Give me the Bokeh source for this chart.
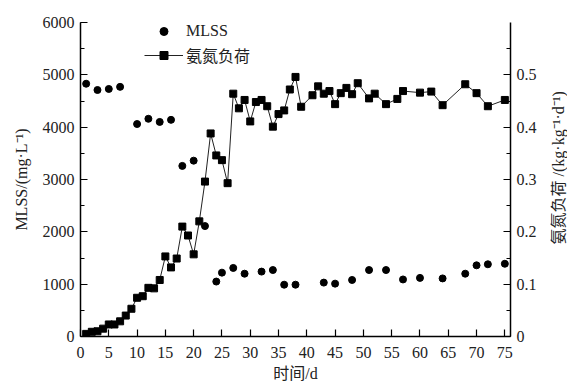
import math
from bokeh.plotting import figure
from bokeh.layouts import row
from bokeh.models import (LinearAxis, Range1d, FixedTicker, SingleIntervalTicker,
                          Legend, LegendItem)
from bokeh.core.properties import value
from bokeh.embed import file_html
from bokeh.resources import INLINE

# ---- data ----
mlss_days = [1, 3, 5, 7, 10, 12, 14, 16, 18, 20, 22, 24, 25, 27, 29, 32, 34, 36, 38,
             43, 45, 48, 51, 54, 57, 60, 64, 68, 70, 72, 75]
mlss_vals = [4830, 4710, 4730, 4770, 4060, 4160, 4100, 4140, 3260, 3360, 2110,
             1050, 1220, 1310, 1200, 1240, 1270, 990, 990,
             1030, 1010, 1080, 1270, 1270, 1090, 1120, 1110, 1200, 1360, 1380, 1390]

load_days = [1, 2, 3, 4, 5, 6, 7, 8, 9, 10, 11, 12, 13, 14, 15, 16, 17, 18, 19, 20,
             21, 22, 23, 24, 25, 26, 27, 28, 29, 30, 31, 32, 33, 34, 35, 36, 37, 38, 39,
             41, 42, 43, 44, 45, 46, 47, 48, 49, 51, 52, 54, 56, 57, 60, 62, 64, 68, 70, 72, 75]
load_vals = [0.005, 0.009, 0.010, 0.015, 0.023, 0.023, 0.029, 0.040, 0.053, 0.074,
             0.077, 0.093, 0.092, 0.108, 0.153, 0.132, 0.149, 0.210, 0.193, 0.157,
             0.220, 0.296, 0.388, 0.346, 0.337, 0.293, 0.464, 0.436, 0.452, 0.411,
             0.448, 0.452, 0.440, 0.401, 0.425, 0.432, 0.472, 0.496, 0.439,
             0.461, 0.478, 0.464, 0.469, 0.444, 0.465, 0.475, 0.463, 0.484,
             0.455, 0.464, 0.444, 0.454, 0.469, 0.466, 0.468, 0.442, 0.482, 0.465, 0.440, 0.452]

x_ticks = [0, 5, 10, 15, 20, 25, 30, 35, 40, 45, 50, 55, 60, 65, 70, 75]
x_title = "时间/d"
left_title = "MLSS/(mg·L⁻¹)"
right_title = "氨氮负荷 /(kg·kg⁻¹·d⁻¹)"

SERIF = "Liberation Serif, Noto Sans CJK SC"
CJK = "Noto Sans CJK SC"

p = figure(width=550, height=387, output_backend="svg", toolbar_location=None,
           x_range=Range1d(0, 76), y_range=Range1d(0, 6000),
           min_border_left=80, min_border_right=40, min_border_top=22, min_border_bottom=51)
p.extra_y_ranges = {"load": Range1d(0, 0.6)}
p.outline_line_color = None
p.xgrid.visible = False
p.ygrid.visible = False
p.background_fill_color = "white"
p.border_fill_color = "white"

def style_axis(ax):
    ax.axis_line_color = "black"
    ax.axis_line_width = 1.5
    ax.major_tick_line_color = "black"
    ax.minor_tick_line_color = "black"
    ax.major_tick_line_width = 1.2
    ax.minor_tick_line_width = 1.2
    ax.major_tick_in = 7
    ax.major_tick_out = 0
    ax.minor_tick_in = 4
    ax.minor_tick_out = 0
    ax.major_label_text_font = SERIF
    ax.major_label_text_font_size = "16px"
    ax.major_label_text_color = "#222222"
    ax.axis_label_text_font = SERIF
    ax.axis_label_text_font_size = "16px"
    ax.axis_label_text_font_style = "normal"
    ax.axis_label_text_color = "#222222"

# x axis
xa = p.xaxis[0]
xa.ticker = FixedTicker(ticks=x_ticks, minor_ticks=[])
xa.axis_label = x_title
style_axis(xa)
xa.major_label_standoff = 10
xa.axis_label_standoff = 4

# left axis
ya = p.yaxis[0]
ya.ticker = SingleIntervalTicker(interval=1000, num_minor_ticks=2)
ya.axis_label = left_title
style_axis(ya)
ya.major_label_standoff = 6
ya.axis_label_standoff = 10

# right axis (its title is drawn in the narrow strip next to the plot)
ra = LinearAxis(y_range_name="load")
ra.ticker = SingleIntervalTicker(interval=0.1, num_minor_ticks=2)
ra.major_label_overrides = {0: "0"}
style_axis(ra)
ra.major_label_standoff = 6
p.add_layout(ra, "right")

# data
r_mlss = p.scatter(mlss_days, mlss_vals, marker="circle", size=7,
                   fill_color="black", line_color="black")
r_line = p.line(load_days, load_vals, y_range_name="load", line_color="#222222", line_width=1)
r_sq = p.scatter(load_days, load_vals, y_range_name="load", marker="square", size=7,
                 fill_color="black", line_color="black")

def mk_legend(items, loc, font):
    lg = Legend(items=items, location=loc, orientation="vertical")
    lg.border_line_color = None
    lg.background_fill_alpha = 0
    lg.padding = 0
    lg.margin = 0
    lg.spacing = 0
    lg.glyph_width = 39
    lg.glyph_height = 20
    lg.label_standoff = 3
    lg.label_text_font = font
    lg.label_text_font_size = "16px"
    lg.label_text_color = "#222222"
    return lg

lg1 = mk_legend([LegendItem(label="MLSS", renderers=[r_mlss])], (64, 295), SERIF)
lg2 = mk_legend([LegendItem(label="氨氮负荷", renderers=[r_line, r_sq])], (64, 269), CJK)
p.add_layout(lg1, "center")
p.add_layout(lg2, "center")

# narrow strip holding the right-hand axis title, reading bottom-to-top
t = figure(width=17, height=387, output_backend="svg", toolbar_location=None,
           x_range=Range1d(0, 17), y_range=Range1d(0, 387),
           x_axis_location=None, y_axis_location=None,
           min_border=0, min_border_left=0, min_border_right=0,
           min_border_top=0, min_border_bottom=0)
t.outline_line_color = None
t.xgrid.visible = False
t.ygrid.visible = False
t.background_fill_color = "white"
t.border_fill_color = "white"
t.text(x=[8], y=[208], text=[right_title], angle=math.pi / 2,
       text_align="center", text_baseline="middle",
       text_font=value(SERIF), text_font_size="16px", text_color="#222222")

layout = row(p, t, spacing=0)
open("out.html", "w").write(file_html(layout, INLINE))
